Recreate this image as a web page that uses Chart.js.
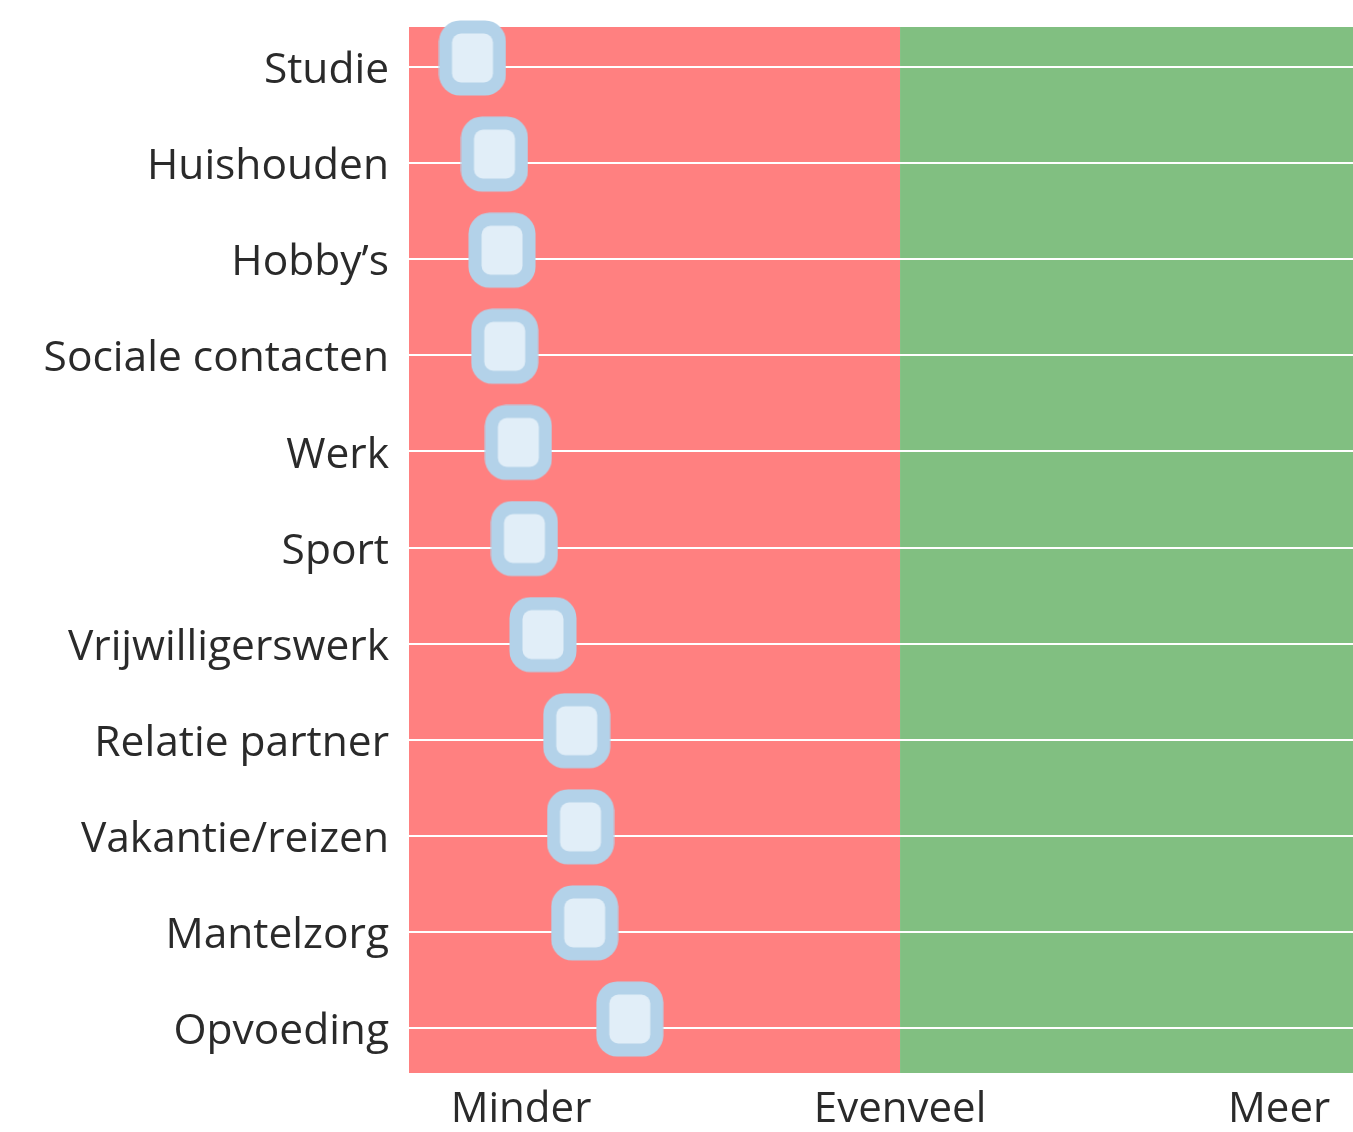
<!DOCTYPE html>
<html>
<head>
<meta charset="utf-8">
<script src="https://cdn.jsdelivr.net/npm/chart.js@4/dist/chart.umd.min.js"></script>
<style>
  html, body { margin: 0; padding: 0; background: #fff; }
  #wrap { width: 1353px; height: 1132px; position: relative; }
</style>
</head>
<body>
<div id="wrap"><canvas id="dotChart"></canvas></div>
<script>
// categorieen van boven naar beneden
const categories = [
  'Studie', 'Huishouden', 'Hobby\u2019s', 'Sociale contacten', 'Werk', 'Sport',
  'Vrijwilligerswerk', 'Relatie partner', 'Vakantie/reizen', 'Mantelzorg', 'Opvoeding',
];
// -1 = Minder, 0 = Evenveel, 1 = Meer
const scores = [-1.128, -1.070, -1.050, -1.043, -1.007, -0.991, -0.942, -0.853, -0.843, -0.832, -0.713];
const xTickValues = [-1, 0, 1];
const xTickLabels = ['Minder', 'Evenveel', 'Meer'];

const textColor = '#2a2a2a';
const minderColor = '#ff8080';
const meerColor = '#81bf81';

// afgeronde vierkante marker, iets boven de lijn getekend
function makeMarker() {
  const c = document.createElement('canvas');
  c.width = 68;
  c.height = 94;
  const g = c.getContext('2d');
  const shift = 9;
  const ow = 67, oh = 75;
  const ox = (c.width - ow) / 2;
  const oy = c.height / 2 - shift - oh / 2;
  g.fillStyle = '#b3d2e9';
  g.beginPath();
  g.roundRect(ox, oy, ow, oh, 21);
  g.fill();
  const b = 13;
  g.fillStyle = '#e1eef8';
  g.beginPath();
  g.roundRect(ox + b, oy + b, ow - 2 * b, oh - 2 * b, 9);
  g.fill();
  return c;
}

const zonesPlugin = {
  id: 'zones',
  beforeDraw(chart) {
    const { ctx, chartArea: a, scales } = chart;
    const mid = scales.x.getPixelForValue(0);
    ctx.save();
    ctx.fillStyle = minderColor;
    ctx.fillRect(a.left, a.top, mid - a.left, a.bottom - a.top);
    ctx.fillStyle = meerColor;
    ctx.fillRect(mid, a.top, a.right - mid, a.bottom - a.top);
    ctx.restore();
  },
};

function noPad(scale) {
  scale.paddingTop = 0;
  scale.paddingBottom = 0;
  scale.paddingLeft = 0;
  scale.paddingRight = 0;
}

const marker = makeMarker();

new Chart(document.getElementById('dotChart').getContext('2d'), {
  type: 'scatter',
  data: {
    datasets: [{
      data: scores.map((v, i) => ({ x: v, y: i })),
      pointStyle: marker,
      pointRadius: 30,
      pointHoverRadius: 30,
      clip: false,
    }],
  },
  options: {
    responsive: true,
    maintainAspectRatio: false,
    animation: false,
    layout: { autoPadding: false, padding: { top: 27, right: 0, bottom: 0, left: 0 } },
    plugins: {
      legend: { display: false },
      tooltip: { enabled: false },
    },
    scales: {
      x: {
        type: 'linear',
        min: -1.2955,
        max: 1.195,
        afterBuildTicks: (scale) => { scale.ticks = xTickValues.map(v => ({ value: v })); },
        afterFit: (scale) => { scale.height = 59; noPad(scale); },
        ticks: {
          color: textColor,
          padding: 12,
          maxRotation: 0,
          autoSkip: false,
          font: { family: 'Open Sans', size: 42 },
          callback: (v, i) => xTickLabels[i],
        },
        grid: { display: false, drawTicks: false },
        border: { display: false },
      },
      y: {
        type: 'linear',
        reverse: true,
        min: -0.416,
        max: 10.468,
        afterBuildTicks: (scale) => { scale.ticks = categories.map((_, i) => ({ value: i })); },
        afterFit: (scale) => { scale.width = 409; noPad(scale); },
        ticks: {
          color: textColor,
          padding: 20,
          labelOffset: 4,
          autoSkip: false,
          font: { family: 'Open Sans', size: 42.5 },
          callback: (v) => categories[v],
        },
        grid: { color: '#ffffff', lineWidth: 2, drawTicks: false },
        border: { display: false },
      },
    },
  },
  plugins: [zonesPlugin],
});
</script>
</body>
</html>
